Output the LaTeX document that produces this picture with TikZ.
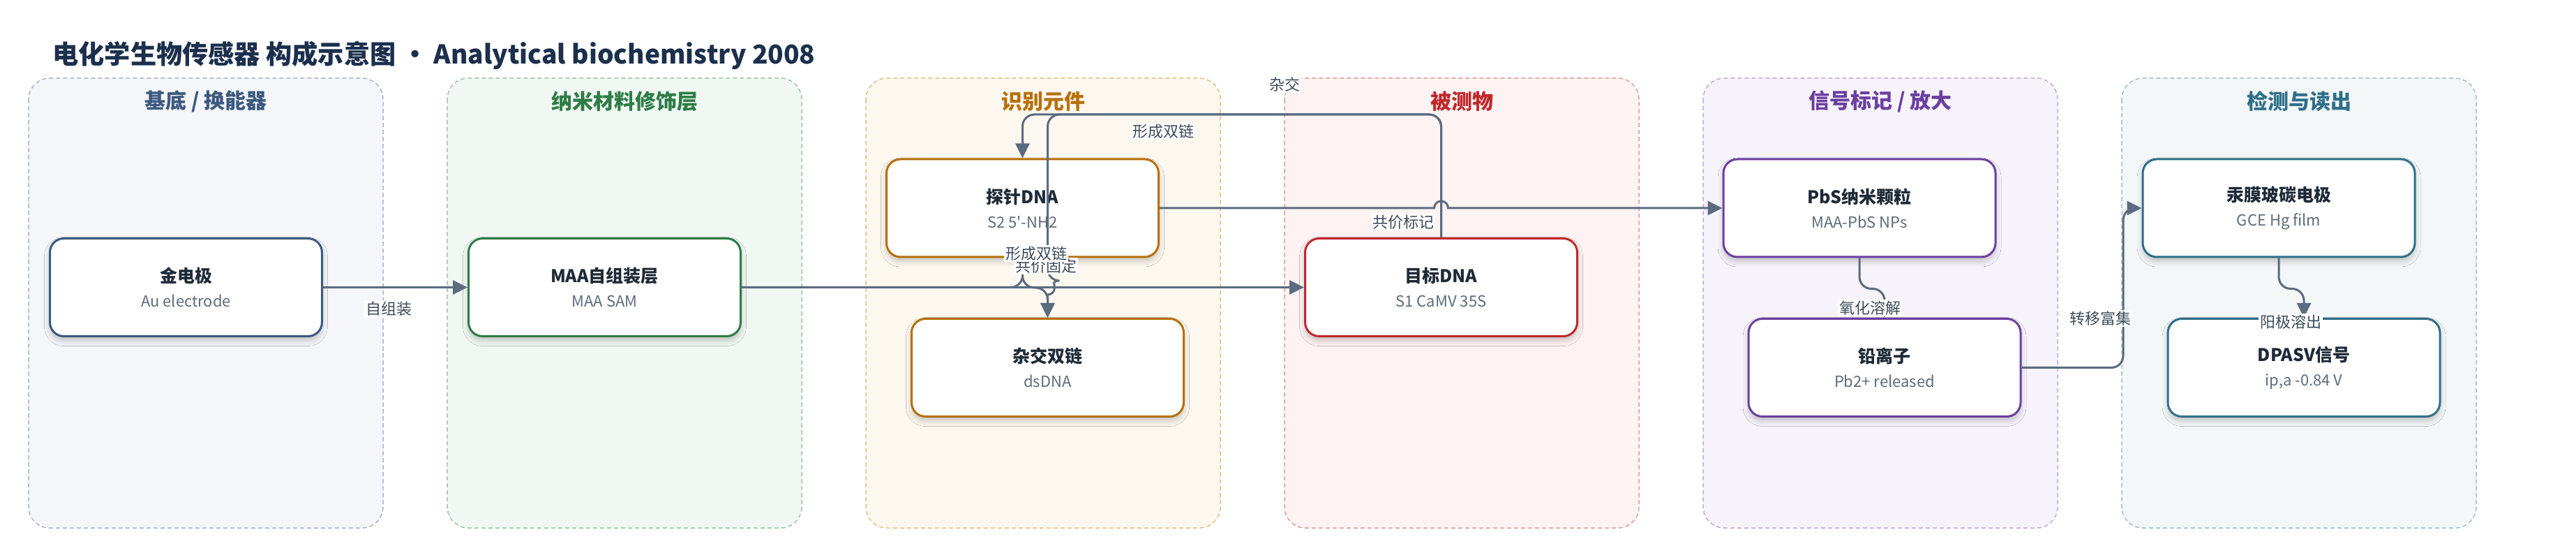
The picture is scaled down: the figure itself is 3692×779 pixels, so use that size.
\documentclass[tikz,border=0pt]{standalone}
\usepackage{fontspec}
\setmainfont{Noto Sans CJK SC}[Ligatures=TeXOff]
\usetikzlibrary{arrows.meta}
\usetikzlibrary{
    shadows.blur % Soft shadows under the boxes.
}

% Colours of the lanes, boxes and lines.
\definecolor{titlec}{HTML}{1C2F4D}
\definecolor{inkc}{HTML}{1F2A37}
\definecolor{subc}{HTML}{5F6B7A}
\definecolor{tagc}{HTML}{3F4B5B}
\definecolor{edgec}{HTML}{5B6B80}
\definecolor{laneAfill}{HTML}{F5F6FA}
\definecolor{laneAline}{HTML}{A9B6CB}
\definecolor{laneAtext}{HTML}{3D5A80}
\definecolor{laneBfill}{HTML}{F1F8F3}
\definecolor{laneBline}{HTML}{9CC6A8}
\definecolor{laneBtext}{HTML}{2E7D46}
\definecolor{laneCfill}{HTML}{FDF8EF}
\definecolor{laneCline}{HTML}{E3C088}
\definecolor{laneCtext}{HTML}{B7700A}
\definecolor{laneDfill}{HTML}{FDF3F2}
\definecolor{laneDline}{HTML}{E39C99}
\definecolor{laneDtext}{HTML}{C0282D}
\definecolor{laneEfill}{HTML}{F7F3FB}
\definecolor{laneEline}{HTML}{C3A9DD}
\definecolor{laneEtext}{HTML}{6B3FA0}
\definecolor{laneFfill}{HTML}{F3F7F8}
\definecolor{laneFline}{HTML}{A3BFCB}
\definecolor{laneFtext}{HTML}{2F6F8A}

% Two lines of text in a box: name and detail.
\newcommand{\boxtext}[2]{{\fontsize{12.5}{15}\selectfont\bfseries #1}\\{\color{subc}#2}}

\begin{document}
\begin{tikzpicture}[
    x=0.5pt, y=-0.5pt,
    lane/.style={draw=#1, dash pattern=on 3pt off 2pt, line width=0.75pt, rounded corners=15pt},
    lanetitle/.style={font=\fontsize{15}{18}\selectfont\bfseries, text=#1},
    box/.style={%
        draw=#1, fill=white, line width=1.5pt, rounded corners=10pt,
        minimum width=195pt, minimum height=70pt, align=center,
        text=inkc, font=\fontsize{11}{17.5}\selectfont,
        blur shadow={shadow xshift=0pt, shadow yshift=-3pt, shadow blur radius=4pt, shadow opacity=22}
    },
    flow/.style={draw=edgec, line width=1.5pt, rounded corners=8.5pt, -{Triangle[length=10.5pt, width=10pt]}},
    tag/.style={fill=white, inner sep=1pt, text=tagc, font=\fontsize{11}{13}\selectfont}
]

        % Page size and background.
        \useasboundingbox (0,0) rectangle (3692,779);
        \fill[white] (0,0) rectangle (3692,779);

        % Heading.
        \node[anchor=west, inner sep=0, text=titlec, font=\fontsize{18.6}{22}\selectfont\bfseries] (title)
            at (75,79) {电化学生物传感器 构成示意图 · Analytical biochemistry 2008};

        % The six lanes, left to right.
        \draw[lane=laneAline, fill=laneAfill] (41,112) rectangle (549,756);
        \draw[lane=laneBline, fill=laneBfill] (641,112) rectangle (1149,756);
        \draw[lane=laneCline, fill=laneCfill] (1241,112) rectangle (1749,756);
        \draw[lane=laneDline, fill=laneDfill] (1841,112) rectangle (2349,756);
        \draw[lane=laneEline, fill=laneEfill] (2441,112) rectangle (2949,756);
        \draw[lane=laneFline, fill=laneFfill] (3041,112) rectangle (3549,756);

        % Lane headings.
        \node[lanetitle=laneAtext] (headA) at (295,145) {基底 / 换能器};
        \node[lanetitle=laneBtext] (headB) at (895,145) {纳米材料修饰层};
        \node[lanetitle=laneCtext] (headC) at (1495,145) {识别元件};
        \node[lanetitle=laneDtext] (headD) at (2095,145) {被测物};
        \node[lanetitle=laneEtext] (headE) at (2695,145) {信号标记 / 放大};
        \node[lanetitle=laneFtext] (headF) at (3295,145) {检测与读出};

        % Boxes.
        \node[box=laneAtext] (au) at (266.5,411.5) {\boxtext{金电极}{Au electrode}};
        \node[box=laneBtext] (maa) at (866.5,411.5) {\boxtext{MAA自组装层}{MAA SAM}};
        \node[box=laneCtext] (probe) at (1465.5,298) {\boxtext{探针DNA}{S2 5'-NH2}};
        \node[box=laneCtext] (ds) at (1501.5,526.5) {\boxtext{杂交双链}{dsDNA}};
        \node[box=laneDtext] (target) at (2065.5,411.5) {\boxtext{目标DNA}{S1 CaMV 35S}};
        \node[box=laneEtext] (pbs) at (2665,298) {\boxtext{PbS纳米颗粒}{MAA-PbS NPs}};
        \node[box=laneEtext] (pb) at (2701,526.5) {\boxtext{铅离子}{Pb2+ released}};
        \node[box=laneFtext] (gce) at (3266,298) {\boxtext{汞膜玻碳电极}{GCE Hg film}};
        \node[box=laneFtext] (dpasv) at (3302,526.5) {\boxtext{DPASV信号}{ip,a -0.84 V}};

        % Bend points of the routed lines.
        \coordinate (hybTop) at (1465.5,164);
        \coordinate (dsTop) at (1501.5,164);
        \coordinate (dsHop) at (1501.5,402);
        \coordinate (dsJoin) at (1501.5,412);
        \coordinate (labHop) at (2055.5,298);
        \coordinate (trUp) at (3043,298);

        % Connectors.
        \draw[flow] (au.east) -- (maa.west);
        \draw[flow] (maa.east) -- (target.west);
        \draw[flow] (maa.east) -| (probe.south);
        \draw[flow] (target.north) |- (hybTop) -- (probe.north);
        \draw[flow] (target.north) |- (dsTop) -- (dsHop) [sharp corners]
            arc[start angle=90, end angle=-90, radius=5pt] -- (ds.north);
        \draw[flow] (probe.south) |- (dsJoin) -- (ds.north);
        \draw[flow, sharp corners] (probe.east) -- (labHop)
            arc[start angle=180, end angle=0, radius=5pt] -- (pbs.west);
        \draw[flow] (pbs.south) -- ++(0,44) -| (pb.north);
        \draw[flow] (pb.east) -| (trUp) -- (gce.west);
        \draw[flow] (gce.south) -- ++(0,44) -| (dpasv.north);

        % Connector labels.
        \node[tag] (tagSelf) at (557,442) {自组装};
        \node[tag] (tagFix) at (1499,381) {共价固定};
        \node[tag] (tagDsA) at (1485,363) {形成双链};
        \node[tag] (tagDsB) at (1667,188) {形成双链};
        \node[tag] (tagHyb) at (1841,121) {杂交};
        \node[tag] (tagLab) at (2011,318) {共价标记};
        \node[tag] (tagOx) at (2680,441) {氧化溶解};
        \node[tag] (tagTr) at (3010,456) {转移富集};
        \node[tag] (tagAn) at (3283,461) {阳极溶出};
    \end{tikzpicture}
\end{document}
